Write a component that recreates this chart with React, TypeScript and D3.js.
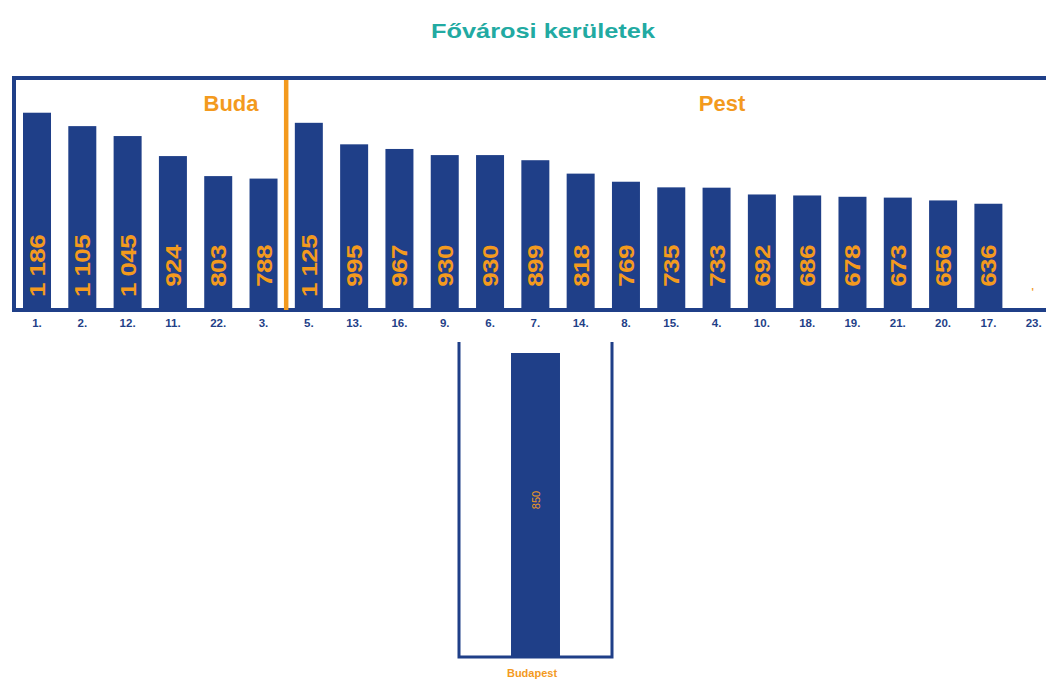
import React from "react";
import * as d3 from "d3";

const districts = ["1.", "2.", "12.", "11.", "22.", "3.", "5.", "13.", "16.", "9.", "6.", "7.", "14.", "8.", "15.", "4.", "10.", "18.", "19.", "21.", "20.", "17.", "23."];
const values: (number | null)[] = [1186, 1105, 1045, 924, 803, 788, 1125, 995, 967, 930, 930, 899, 818, 769, 735, 733, 692, 686, 678, 673, 656, 636, null];
const budaCount = 6;
const totalLabel = "Budapest";
const totalValue = 850;
const title = "Fővárosi kerületek";

const BLUE = "#1f3f88";
const ORANGE = "#f39a1e";
const TEAL = "#22aaa2";

const fmt = d3.formatLocale({ decimal: ",", thousands: " ", grouping: [3], currency: ["", " Ft"] }).format(",d");

export default function App() {
  const W = 1046, H = 679;
  const x = d3.scaleBand<string>().domain(districts).range([5.7, 1065]).paddingInner(0.382).paddingOuter(0.382);
  const baseY = 309;
  const y = d3.scaleLinear().domain([0, 1200]).range([baseY, baseY - 1200 * 0.1655]);
  const bw = x.bandwidth();
  const divX = ((x(districts[budaCount - 1]) as number) + bw + (x(districts[budaCount]) as number)) / 2;

  // lower panel
  const xb = d3.scaleBand<string>().domain([totalLabel]).range([459, 612]).padding(0.515);
  const yb = d3.scaleLinear().domain([0, 850]).range([657, 353]);

  const font = "'Liberation Sans', Arial, sans-serif";
  return (
    <svg width={W} height={H} style={{ position: "absolute", left: 0, top: 0, background: "#fff" }} fontFamily={font}>
      <text x={543} y={38} textAnchor="middle" fill={TEAL} fontSize={21} fontWeight="bold" textLength={224} lengthAdjust="spacingAndGlyphs">{title}</text>
      {/* main box */}
      <path d={`M1046,78 H14 V310 H1046`} fill="none" stroke={BLUE} strokeWidth={4} />
      <text x={231} y={111} textAnchor="middle" fill={ORANGE} fontSize={22} fontWeight="bold">Buda</text>
      <text x={722} y={111} textAnchor="middle" fill={ORANGE} fontSize={22} fontWeight="bold">Pest</text>
      {districts.map((d, i) => {
        const v = values[i];
        const bx = x(d) as number;
        const cx = bx + bw / 2;
        return (
          <g key={d}>
            {v != null && <rect x={bx} y={y(v)} width={bw} height={baseY - y(v)} fill={BLUE} />}
            {v != null ? (
              <text transform={`translate(${cx + 8},266) rotate(-90) scale(1.18,1)`} textAnchor="middle" fill={ORANGE} fontSize={22} fontWeight="bold" letterSpacing={-0.5}>{fmt(v)}</text>
            ) : (
              <text x={cx - 1} y={296} textAnchor="middle" fill={ORANGE} fontSize={10} fontWeight="bold">'</text>
            )}
            <text x={cx} y={327} textAnchor="middle" fill={BLUE} fontSize={11.5} fontWeight="bold">{d}</text>
          </g>
        );
      })}
      <line x1={divX} x2={divX} y1={80} y2={310} stroke={ORANGE} strokeWidth={4.5} />
      {/* lower panel */}
      <path d={`M459,342 V657 H612 V342`} fill="none" stroke={BLUE} strokeWidth={3} />
      <rect x={xb(totalLabel) as number} y={yb(totalValue)} width={xb.bandwidth()} height={657 - yb(totalValue)} fill={BLUE} />
      <text transform={`translate(${(xb(totalLabel) as number) + xb.bandwidth() / 2 + 4},500) rotate(-90)`} textAnchor="middle" fill={ORANGE} fontSize={11}>{fmt(totalValue)}</text>
      <text x={532} y={677} textAnchor="middle" fill={ORANGE} fontSize={11} fontWeight="bold">{totalLabel}</text>
    </svg>
  );
}
